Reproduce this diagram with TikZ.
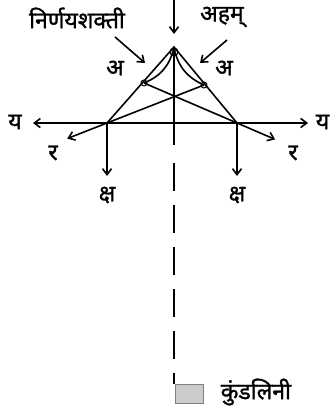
\documentclass[tikz,border=0pt]{standalone}
\usepackage{fontspec}
\newfontfamily\devafont[Script=Devanagari,FakeBold=1.2]{Noto Sans}
\usetikzlibrary{arrows.meta,calc}

\begin{document}
\begin{tikzpicture}[x=1pt, y=-1pt, >={Straight Barb[length=6pt,width=9pt]},
    line width=1.6pt,
    lbl/.style={font=\devafont\fontsize{23}{26}\selectfont, inner sep=0pt},
    ring/.style={line width=1pt}]
    \useasboundingbox (0,0) rectangle (330,412);

    % triangle points
    \coordinate (apex) at (174,47);
    \coordinate (bl) at (107,123);
    \coordinate (br) at (237,123);
    \coordinate (pl) at (144,83);
    \coordinate (pr) at (204,85);
    \coordinate (mid) at (174,145);
    \coordinate (dash0) at (174,163);
    \coordinate (base) at (174,384);

    % labels
    \node[lbl] (nirnay) at (77,18) {निर्णयशक्ती};
    \node[lbl] (aham) at (222,17) {अहम्};
    \node[lbl] (al) at (115,68) {अ};
    \node[lbl] (ar) at (224,68) {अ};
    \node[lbl] (yl) at (15,122) {य};
    \node[lbl, anchor=east] (yr) at (330,122) {य};
    \node[lbl] (rl) at (53,153) {र};
    \node[lbl] (rr) at (293,153) {र};
    \node[lbl] (kl) at (107,195) {क्ष};
    \node[lbl] (kr) at (237,195) {क्ष};
    \node[draw=gray, fill=gray!40, line width=0.6pt, minimum width=28pt,
          minimum height=19pt, inner sep=0pt, anchor=north west] (sq) at (175,384) {};
    \node[lbl, anchor=west] (kund) at (220,392) {कुंडलिनी};

    % arrow ends
    \coordinate (top) at (174,0);
    \coordinate (topend) at (174,34);
    \coordinate (ntip) at (145,63);
    \coordinate (atip) at (200,63);
    \coordinate (hl) at (33,123);
    \coordinate (hr) at (308,123);
    \coordinate (kld) at (107,176);
    \coordinate (krd) at (237,176);

    % triangle and inner lines
    \draw (bl) -- (apex) -- (br);
    \draw (apex) -- (mid);
    \draw[dash pattern=on 28pt off 14pt] (dash0) -- (base);
    \draw[->] (pr) -- ($(pr)!1.41!(bl)$);
    \draw[->] (pl) -- ($(pl)!1.41!(br)$);
    \draw (apex) to[bend left=28] (pl);
    \draw (apex) to[bend right=28] (pr);
    \draw[ring] (174,52) circle (4);
    \draw[ring] (pl) circle (3);
    \draw[ring] (pr) circle (3);

    % arrows
    \draw[<->] (hl) -- (hr);
    \draw[->] (top) -- (topend);
    \draw[->] (115,37) -- (ntip);
    \draw[->] (227,40) -- (atip);
    \draw[->] (bl) -- (kld);
    \draw[->] (br) -- (krd);
\end{tikzpicture}
\end{document}
